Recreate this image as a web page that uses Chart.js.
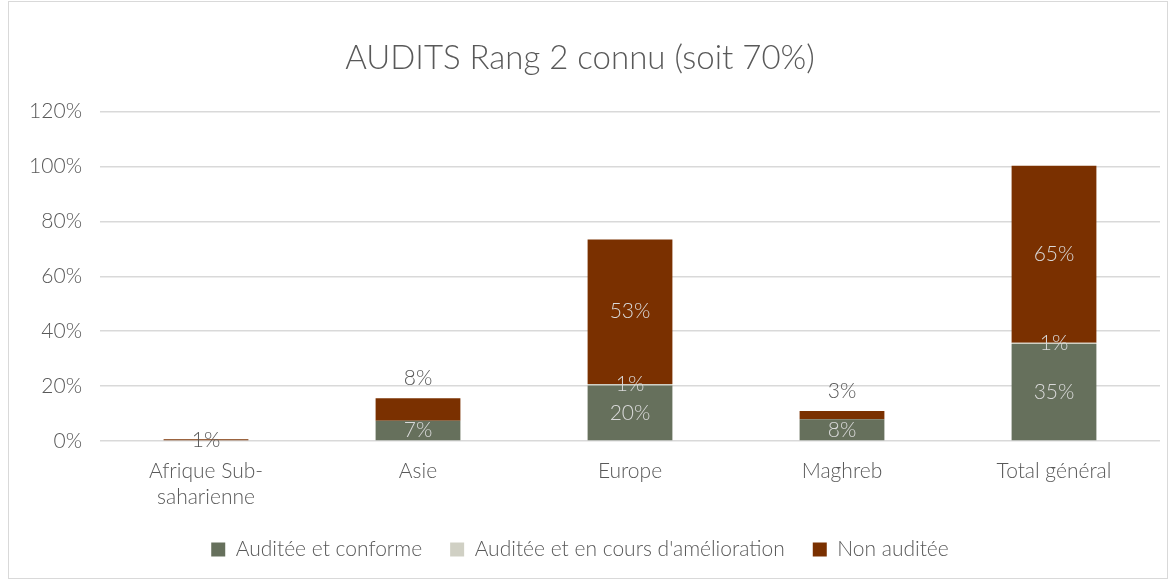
<!DOCTYPE html>
<html>
<head>
<meta charset="utf-8">
<script src="https://cdn.jsdelivr.net/npm/chart.js@4"></script>
<style>
  html, body { margin: 0; padding: 0; background: #fff; }
  #wrap { position: relative; width: 1170px; height: 581px; }
  #frame { position: absolute; left: 8px; top: 1px; width: 1158px; height: 576px; border: 1px solid #d9d9d9; pointer-events: none; }
</style>
</head>
<body>
<div id="wrap">
  <canvas id="chart" width="1170" height="581"></canvas>
  <div id="frame"></div>
</div>
<script>
const categories = [['Afrique Sub-', 'saharienne'], 'Asie', 'Europe', 'Maghreb', 'Total général'];
const conforme = [0, 7.4, 20.2, 7.9, 35.3];
const amelioration = [0, 0, 0.6, 0, 0.5];
const nonAuditee = [0.6, 8.2, 52.6, 3.0, 64.5];
const yTicks = [0, 20, 40, 60, 80, 100, 120];

// labels drawn above the stack instead of inside the segment
const labelsAbove = { 2: [1, 3] };

const FONT = "Lato, 'Open Sans', sans-serif";
const W = '300';
const textGray = '#595959';

const barLabels = {
    id: 'barLabels',
    afterDatasetsDraw(chart) {
        const ctx = chart.ctx;
        ctx.save();
        ctx.font = W + ' 21px ' + FONT;
        ctx.textAlign = 'center';
        ctx.textBaseline = 'middle';
        chart.data.datasets.forEach((ds, di) => {
            const meta = chart.getDatasetMeta(di);
            meta.data.forEach((bar, i) => {
                const v = ds.data[i];
                if (!v) return;
                const txt = Math.round(v) + '%';
                const above = (labelsAbove[di] || []).includes(i);
                let y = (bar.y + bar.base) / 2;
                let color = '#d9d9d9';
                if (above) {
                    y = bar.y - 20;
                    color = textGray;
                } else if (bar.base - bar.y < 5 && di === 2) {
                    color = textGray;
                }
                ctx.fillStyle = color;
                ctx.fillText(txt, bar.x, y);
            });
        });
        ctx.restore();
    }
};

new Chart(document.getElementById('chart'), {
    type: 'bar',
    data: {
        labels: categories,
        datasets: [
            { label: 'Auditée et conforme', data: conforme, backgroundColor: '#66705c' },
            { label: "Auditée et en cours d'amélioration", data: amelioration, backgroundColor: '#d0d0c4' },
            { label: 'Non auditée', data: nonAuditee, backgroundColor: '#7a3000' }
        ]
    },
    options: {
        responsive: false,
        animation: false,
        datasets: { bar: { barPercentage: 0.4, categoryPercentage: 1.0 } },
        layout: { padding: { left: 0, right: 10, top: 14, bottom: 11 } },
        plugins: {
            title: {
                display: true,
                text: 'AUDITS Rang 2 connu (soit 70%)',
                color: textGray,
                font: { family: FONT, size: 33, weight: W },
                padding: { top: 25, bottom: 33 }
            },
            legend: {
                position: 'bottom',
                labels: {
                    color: textGray,
                    font: { family: FONT, size: 21, weight: W },
                    boxWidth: 14,
                    boxHeight: 14,
                    padding: 28
                }
            },
            tooltip: { enabled: false }
        },
        scales: {
            x: {
                stacked: true,
                grid: { display: false },
                border: { display: false },
                afterFit: s => { s.height = 70; },
                ticks: { color: textGray, font: { family: FONT, size: 21, weight: W }, padding: 10, maxRotation: 0 }
            },
            y: {
                stacked: true,
                min: 0,
                max: 120,
                afterBuildTicks: axis => { axis.ticks = yTicks.map(v => ({ value: v })); },
                afterFit: s => { s.width = 100; },
                grid: { color: '#d9d9d9', lineWidth: 1.5, drawTicks: false },
                border: { display: false },
                ticks: {
                    color: textGray,
                    font: { family: FONT, size: 21, weight: W },
                    padding: 18,
                    callback: v => v + '%'
                }
            }
        }
    },
    plugins: [barLabels]
});
</script>
</body>
</html>
